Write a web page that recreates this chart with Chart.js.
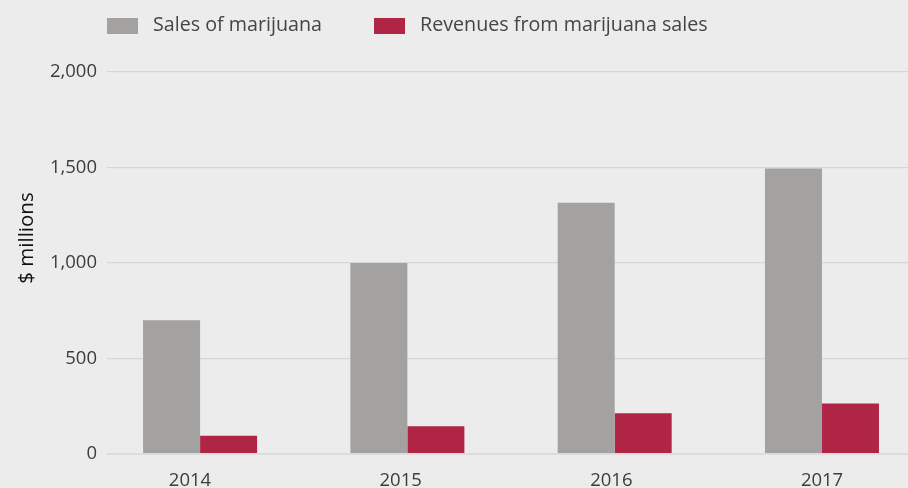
<!DOCTYPE html>
<html>
<head>
<meta charset="utf-8">
<script src="https://cdn.jsdelivr.net/npm/chart.js@4"></script>
<style>
  html, body { margin: 0; padding: 0; background: #ececec; }
  #wrap { width: 908px; height: 488px; }
</style>
</head>
<body>
<div id="wrap"><canvas id="myChart" width="908" height="488"></canvas></div>
<script>
const years = [2014, 2015, 2016, 2017];
const sales = [700, 1000, 1315, 1495];
const revenues = [95, 145, 213, 265];
const seriesNames = ['Sales of marijuana', 'Revenues from marijuana sales'];
const yTicks = [0, 500, 1000, 1500, 2000];
const yTitle = '$ millions';

const FONT = '"Open Sans", "Noto Sans", sans-serif';

// legend row and rotated axis title, drawn by hand so they sit where we want
const frame = {
  id: 'frame',
  afterDraw(chart) {
    const ctx = chart.ctx;
    ctx.save();
    ctx.font = '19.7px ' + FONT;
    ctx.textBaseline = 'middle';
    ctx.textAlign = 'left';
    let x = chart.chartArea.left;
    chart.data.datasets.forEach(ds => {
      ctx.fillStyle = ds.backgroundColor;
      ctx.fillRect(x, 18, 31, 16);
      ctx.fillStyle = '#454545';
      ctx.fillText(ds.label, x + 46, 25);
      x += 46 + ctx.measureText(ds.label).width + 52;
    });
    ctx.translate(27, 238);
    ctx.rotate(-Math.PI / 2);
    ctx.textAlign = 'center';
    ctx.fillStyle = '#111';
    ctx.font = '20.5px ' + FONT;
    ctx.fillText(yTitle, 0, 0);
    ctx.restore();
  }
};

const toPoints = vals => years.map((yr, i) => ({ x: yr, y: vals[i] }));
const yearTicks = s => { s.ticks = years.map(v => ({ value: v })); };

const data = {
  datasets: [{
    label: seriesNames[0],
    data: toPoints(sales),
    backgroundColor: '#a3a2a0',
    xAxisID: 'x'
  }, {
    label: seriesNames[1],
    data: toPoints(revenues),
    backgroundColor: '#b02546',
    xAxisID: 'x'
  }]
};

const config = {
  type: 'bar',
  data,
  options: {
    responsive: false,
    animation: false,
    categoryPercentage: 0.55,
    barPercentage: 1,
    layout: { padding: { top: 72, left: 0, right: 0, bottom: 0 } },
    plugins: {
      legend: { display: false },
      tooltip: { enabled: false }
    },
    scales: {
      x: {
        type: 'linear',
        display: false,
        offset: false,
        min: 2013.551,
        max: 2017.415,
        afterBuildTicks: yearTicks
      },
      xl: {
        type: 'linear',
        position: 'bottom',
        offset: false,
        min: 2013.606,
        max: 2017.408,
        afterBuildTicks: yearTicks,
        afterFit: s => { s.height = 34; },
        grid: { display: false },
        border: { display: false },
        ticks: {
          callback: v => String(v),
          color: '#3c3c3c',
          font: { family: FONT, size: 18.5 },
          padding: 8,
          maxRotation: 0,
          autoSkip: false
        }
      },
      y: {
        min: 0,
        max: 2000,
        afterBuildTicks: s => { s.ticks = yTicks.map(v => ({ value: v })); },
        afterFit: s => { s.width = 107; },
        border: { display: false },
        grid: {
          drawTicks: false,
          color: c => c.tick && c.tick.value === 0 ? '#dcdcdc' : '#d6d6d6',
          lineWidth: c => c.tick && c.tick.value === 0 ? 2 : 1.3
        },
        ticks: {
          callback: v => v.toLocaleString('en-US'),
          color: '#3c3c3c',
          font: { family: FONT, size: 18.5 },
          padding: 10
        }
      }
    }
  },
  plugins: [frame]
};

const myChart = new Chart(document.getElementById('myChart'), config);
</script>
</body>
</html>
